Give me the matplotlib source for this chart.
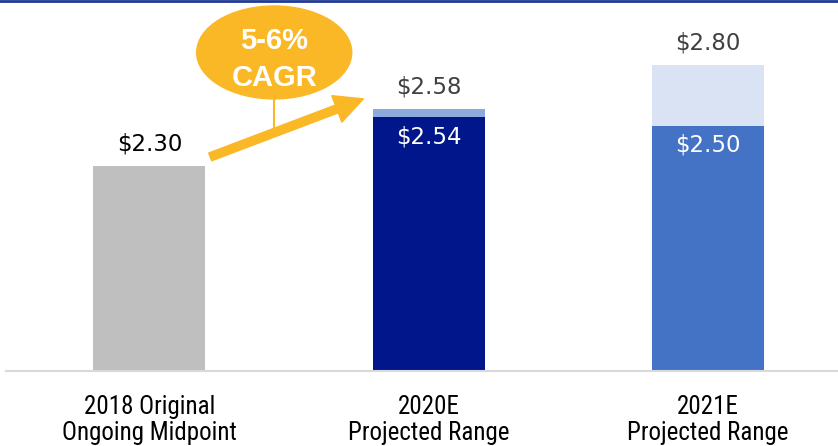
import matplotlib
matplotlib.use("Agg")
import matplotlib.pyplot as plt
import numpy as np
from matplotlib.patches import Ellipse
from matplotlib.lines import Line2D

# ---- data ----
categories = ["2018 Original\nOngoing Midpoint", "2020E\nProjected Range", "2021E\nProjected Range"]
low_values = [2.30, 2.54, 2.50]
high_values = [2.30, 2.58, 2.80]
low_labels = ["$2.30", "$2.54", "$2.50"]
high_labels = [None, "$2.58", "$2.80"]
cagr_text = "5-6%\nCAGR"

# ---- style ----
low_colors = ["#BFBFBF", "#00168A", "#4472C4"]
high_colors = ["#BFBFBF", "#8EA9DB", "#DAE3F3"]
gold = "#FBB826"
val_font = ["DejaVu Sans"]
bub_font = ["Liberation Sans", "DejaVu Sans"]
cat_font = ["Liberation Sans Narrow", "Roboto Condensed", "Liberation Sans", "DejaVu Sans"]

fig = plt.figure(figsize=(8.38, 4.46), dpi=100)
ax = fig.add_axes([6 / 838, 75 / 446, 1 - 6 / 838, 371 / 446])
ybot = 1.285
ax.set_ylim(ybot, ybot + 371 / 202)
ax.set_xlim(-0.513, 2.465)

x = np.arange(len(categories))
w = 0.40
low = np.array(low_values)
high = np.array(high_values)
ax.bar(x, low - ybot, bottom=ybot, width=w, color=low_colors, zorder=2)
ax.bar(x, high - low, bottom=low, width=w, color=high_colors, zorder=2)

for s in ["top", "right", "left"]:
    ax.spines[s].set_visible(False)
ax.spines["bottom"].set_color("#D9D9D9")
ax.spines["bottom"].set_linewidth(1.5)
ax.set_yticks([])
ax.set_xticks(x)
ax.set_xticklabels(categories, fontsize=18, family=cat_font, linespacing=1.15)
ax.tick_params(axis="x", length=0, pad=17)

# value labels
for i in range(len(x)):
    if high_labels[i] is None:
        ax.text(x[i], low[i] + 0.11, low_labels[i], ha="center", va="center",
                fontsize=16.5, family=val_font, color="black")
    else:
        ax.text(x[i], high[i] + 0.11, high_labels[i], ha="center", va="center",
                fontsize=16.5, family=val_font, color="#404040")
        ax.text(x[i], low[i] - 0.095, low_labels[i], ha="center", va="center",
                fontsize=16.5, family=val_font, color="white")

# CAGR arrow and bubble
tail = (0.218, 2.345)
tip = (0.766, 2.632)
ax.annotate("", xy=tip, xytext=tail,
            arrowprops=dict(arrowstyle="simple,head_length=1.7,head_width=1.7,tail_width=0.5",
                            color=gold, shrinkA=0, shrinkB=0, mutation_scale=12), zorder=3)
ecx, ecy = 0.447, 2.862
ax.add_patch(Ellipse((ecx, ecy), 0.555, 0.46, color=gold, zorder=4, clip_on=False))
ax.plot([ecx, ecx], [ecy - 0.23, 2.48], color=gold, lw=1.5, zorder=3)
ax.text(ecx, ecy - 0.035, cagr_text, ha="center", va="center", fontsize=21, fontweight="bold",
        family=bub_font, color="white", linespacing=1.4, zorder=5)

# top rule
fig.add_artist(Line2D([0, 1], [0.998, 0.998], transform=fig.transFigure, color="#1F3A93", lw=2))

fig.savefig("out.png", dpi=100)
